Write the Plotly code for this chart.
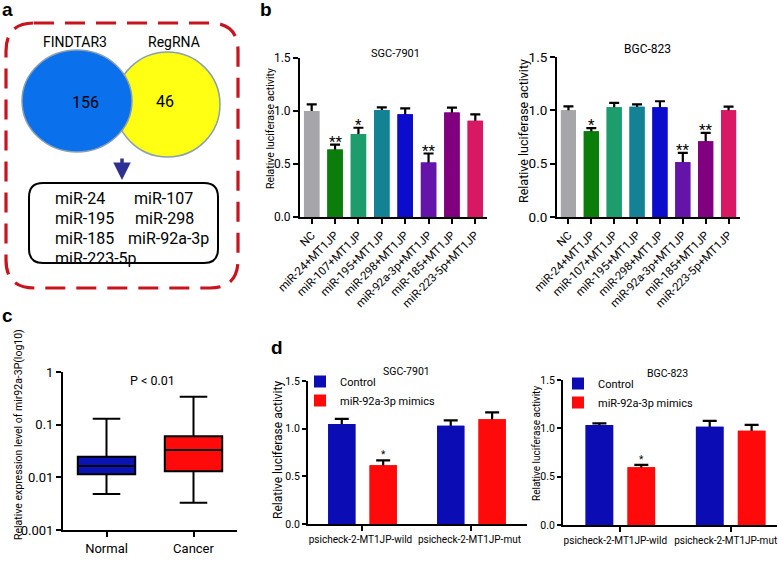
import plotly.graph_objects as go

W, H = 779, 561
def X(px): return px / W
def Y(py): return 1 - py / H

FONT = "Roboto"

# ---------------- Panel b data ----------------
mirna_cats = ["NC", "miR-24+MT1JP", "miR-107+MT1JP", "miR-195+MT1JP", "miR-298+MT1JP",
              "miR-92a-3p+MT1JP", "miR-185+MT1JP", "miR-223-5p+MT1JP"]
sgc_vals = [1.00, 0.637, 0.782, 1.01, 0.97, 0.514, 0.987, 0.908]
sgc_err = [0.063, 0.045, 0.06, 0.025, 0.055, 0.085, 0.045, 0.06]
sgc_sig = ["", "**", "*", "", "", "**", "", ""]
bgc_vals = [1.00, 0.804, 1.03, 1.034, 1.03, 0.514, 0.71, 1.00]
bgc_err = [0.037, 0.03, 0.04, 0.022, 0.055, 0.087, 0.078, 0.035]
bgc_sig = ["", "*", "", "", "", "**", "**", ""]
bar_colors = ["#a6a6aa", "#0a7d0a", "#1d9c6e", "#138294", "#0c0ccd",
              "#6414a8", "#800080", "#d81863"]

# ---------------- Panel c data ----------------
box_groups = ["Normal", "Cancer"]
box_min = [0.0048, 0.0033]
box_q1 = [0.0115, 0.013]
box_med = [0.0165, 0.033]
box_q3 = [0.0245, 0.060]
box_max = [0.13, 0.34]
box_colors = ["#0a14b4", "#ff0a0a"]
log_ticks = [0.001, 0.01, 0.1, 1]
log_ticktext = ["0.001", "0.01", "0.1", "1"]

# ---------------- Panel d data ----------------
constructs = ["psicheck-2-MT1JP-wild", "psicheck-2-MT1JP-mut"]
d_sgc_ctrl = [1.048, 1.031]
d_sgc_ctrl_err = [0.055, 0.055]
d_sgc_mim = [0.617, 1.10]
d_sgc_mim_err = [0.05, 0.07]
d_bgc_ctrl = [1.034, 1.017]
d_bgc_ctrl_err = [0.017, 0.06]
d_bgc_mim = [0.597, 0.976]
d_bgc_mim_err = [0.025, 0.06]
d_sig = ["*", ""]
ctrl_color = "#0c0cb4"
mim_color = "#ff0a0a"

fig = go.Figure()

# ---- panel b bars (error bars drawn behind an identical overlay bar) ----
def add_b(vals, errs, xa, ya):
    fig.add_trace(go.Bar(x=mirna_cats, y=vals, marker=dict(color=bar_colors, line=dict(width=0)),
                         width=0.66,
                         error_y=dict(type="data", array=errs, symmetric=True, color="black",
                                      thickness=2.2, width=5),
                         xaxis=xa, yaxis=ya, showlegend=False, hoverinfo="skip"))
    fig.add_trace(go.Bar(x=mirna_cats, y=vals, marker=dict(color=bar_colors, line=dict(width=0)),
                         width=0.66, xaxis=xa, yaxis=ya, showlegend=False))

add_b(sgc_vals, sgc_err, "x", "y")
add_b(bgc_vals, bgc_err, "x2", "y2")

# ---- panel c boxes ----
for i, g in enumerate(box_groups):
    fig.add_trace(go.Box(x=[g], q1=[box_q1[i]], median=[box_med[i]], q3=[box_q3[i]],
                         lowerfence=[box_min[i]], upperfence=[box_max[i]],
                         fillcolor=box_colors[i], line=dict(color="black", width=2),
                         width=0.66, whiskerwidth=0.48, boxpoints=False,
                         xaxis="x3", yaxis="y3", showlegend=False))

# ---- panel d grouped bars ----
def add_d(ctrl, ctrl_err, mim, mim_err, xa, ya, leg):
    for vals, errs, col, name, off in [(ctrl, ctrl_err, ctrl_color, "Control", -0.315),
                                       (mim, mim_err, mim_color, "miR-92a-3p mimics", 0.065)]:
        fig.add_trace(go.Bar(x=constructs, y=vals, width=0.25, offset=off,
                             marker=dict(color=col, line=dict(width=0)),
                             error_y=dict(type="data", array=errs, symmetric=True, color="black",
                                          thickness=2.2, width=7),
                             xaxis=xa, yaxis=ya, showlegend=False, hoverinfo="skip"))
        fig.add_trace(go.Bar(x=constructs, y=vals, width=0.25, offset=off, name=name,
                             marker=dict(color=col, line=dict(width=0)),
                             xaxis=xa, yaxis=ya, showlegend=True, legend=leg))

add_d(d_sgc_ctrl, d_sgc_ctrl_err, d_sgc_mim, d_sgc_mim_err, "x4", "y4", "legend")
add_d(d_bgc_ctrl, d_bgc_ctrl_err, d_bgc_mim, d_bgc_mim_err, "x5", "y5", "legend2")

# ---------------- axes ----------------
def yax(dom_px, rng, tickfont, dtick=0.5, **kw):
    d = dict(domain=[Y(dom_px[1]), Y(dom_px[0])], range=rng, showline=True, linecolor="black",
             linewidth=2, ticks="outside", ticklen=5, tickwidth=2, tickcolor="black",
             showgrid=False, zeroline=False, automargin=False,
             tickfont=dict(size=tickfont, color="black", family=FONT))
    if dtick is not None:
        d.update(dtick=dtick, tickformat=".1f")
    d.update(kw)
    return d

def xax(dom_px, anchor, tickfont, rng=None, **kw):
    d = dict(domain=[X(dom_px[0]), X(dom_px[1])], anchor=anchor, showline=True, linecolor="black",
             linewidth=2, ticks="outside", ticklen=5, tickwidth=2, tickcolor="black",
             showgrid=False, zeroline=False, automargin=False,
             tickfont=dict(size=tickfont, color="black", family=FONT))
    if rng is not None:
        d["range"] = rng
    d.update(kw)
    return d

layout = dict(
    width=W, height=H, margin=dict(l=0, r=0, t=0, b=0, pad=0, autoexpand=False),
    paper_bgcolor="white", plot_bgcolor="white", barmode="overlay",
    font=dict(family=FONT, color="black"),
    xaxis=xax((300, 487), "y", 11.5, rng=[-0.5, 7.5], tickangle=-45),
    yaxis=yax((58, 217), [0, 1.5], 12, anchor="x"),
    xaxis2=xax((557, 740), "y2", 11.5, rng=[-0.5, 7.5], tickangle=-45),
    yaxis2=yax((57, 217), [0, 1.5], 13.5, anchor="x2"),
    xaxis3=xax((63, 237), "y3", 13, rng=[-0.5, 1.5], tickangle=0),
    yaxis3=yax((372, 530), [-3, 0], 13, dtick=None, anchor="x3", type="log",
               tickvals=log_ticks, ticktext=log_ticktext),
    xaxis4=xax((308, 527), "y4", 10, rng=[-0.5, 1.51], tickangle=0, ticklabelshift=-2),
    yaxis4=yax((381, 524), [0, 1.5], 10.5, anchor="x4", ticklen=4),
    xaxis5=xax((563, 777), "y5", 10, rng=[-0.52, 1.42], tickangle=0, ticklabelshift=-5),
    yaxis5=yax((380, 525), [0, 1.5], 10.5, anchor="x5", ticklen=4),
    legend=dict(x=X(300), y=Y(367), xanchor="left", yanchor="top", bgcolor="rgba(0,0,0,0)",
                font=dict(size=11, family=FONT), tracegroupgap=0, itemwidth=30),
    legend2=dict(x=X(558), y=Y(369), xanchor="left", yanchor="top", bgcolor="rgba(0,0,0,0)",
                 font=dict(size=11, family=FONT), tracegroupgap=0, itemwidth=30),
)
fig.update_layout(**layout)

ann = []
shapes = []

def txt(x, y, s, size, **kw):
    d = dict(x=x, y=y, xref="paper", yref="paper", text=s, showarrow=False,
             xanchor="center", yanchor="middle",
             font=dict(size=size, family=kw.pop("family", FONT), color=kw.pop("color", "black")))
    d.update(kw)
    ann.append(d)

# panel letters
for lab, px, py in [("a", 8, 10), ("b", 266, 10), ("c", 7, 315), ("d", 277, 347)]:
    txt(X(px), Y(py), "<b>%s</b>" % lab, 19, family="Liberation Sans")

# ---------------- panel a (Venn + list) ----------------
def rrect(x0, y0, x1, y1, r):
    p = [f"M{X(x0+r)},{Y(y0)}", f"L{X(x1-r)},{Y(y0)}", f"Q{X(x1)},{Y(y0)} {X(x1)},{Y(y0+r)}",
         f"L{X(x1)},{Y(y1-r)}", f"Q{X(x1)},{Y(y1)} {X(x1-r)},{Y(y1)}",
         f"L{X(x0+r)},{Y(y1)}", f"Q{X(x0)},{Y(y1)} {X(x0)},{Y(y1-r)}",
         f"L{X(x0)},{Y(y0+r)}", f"Q{X(x0)},{Y(y0)} {X(x0+r)},{Y(y0)}", "Z"]
    return " ".join(p)

shapes.append(dict(type="path", xref="paper", yref="paper", path=rrect(6, 23, 238, 288, 28),
                   line=dict(color="#c8141e", width=3.2, dash="20px,11px")))
shapes.append(dict(type="circle", xref="paper", yref="paper", x0=X(115), x1=X(220), y0=Y(157), y1=Y(52),
                   fillcolor="#ffff14", line=dict(color="#8aa0b0", width=1.5), layer="above"))
shapes.append(dict(type="circle", xref="paper", yref="paper", x0=X(22), x1=X(132), y0=Y(152), y1=Y(50),
                   fillcolor="#0a70ec", line=dict(color="#8aa0b0", width=1.5), layer="above"))
shapes.append(dict(type="path", xref="paper", yref="paper", path=rrect(29, 183, 218, 263, 14),
                   line=dict(color="black", width=2)))

txt(X(75), Y(42), "FINDTAR3", 14)
txt(X(174), Y(42), "RegRNA", 14)
txt(X(85), Y(102), "156", 16)
txt(X(165), Y(101), "46", 16)
ann.append(dict(x=X(122), y=Y(180), xref="paper", yref="paper", ax=0, ay=-23, showarrow=True,
                arrowhead=2, arrowsize=1, arrowwidth=3.5, arrowcolor="#2e3192", text=""))

mir_list = [("miR-24", 53, 198), ("miR-107", 132, 198), ("miR-195", 53, 218), ("miR-298", 133, 218),
            ("miR-185", 53, 238), ("miR-92a-3p", 126, 238), ("miR-223-5p", 53, 258)]
for s, px, py in mir_list:
    txt(X(px), Y(py), s, 16, xanchor="left")

# ---------------- panel b annotations ----------------
txt(X(395), Y(53), "SGC-7901", 11)
txt(X(647), Y(49), "BGC-823", 12)
txt(X(270), Y(129), "Relative luciferase activity", 10.5, textangle=-90)
txt(X(523), Y(131), "Relative luciferase activity", 12.5, textangle=-90)
for xa, ya, vals, errs, sig in [("x", "y", sgc_vals, sgc_err, sgc_sig), ("x2", "y2", bgc_vals, bgc_err, bgc_sig)]:
    for i, s in enumerate(sig):
        if s:
            ann.append(dict(x=mirna_cats[i], y=vals[i] + errs[i], xref=xa, yref=ya, text=s, showarrow=False,
                            xanchor="center", yanchor="bottom", yshift=-8,
                            font=dict(size=15, family=FONT, color="black")))

# ---------------- panel c annotations ----------------
txt(X(18), Y(435), "Relative expression level of mir92a-3P(log10)", 10.5, textangle=-90)
shapes.append(dict(type="line", xref="x3", yref="y3", x0=0.04, x1=0.99, y0=-0.33, y1=-0.33,
                   line=dict(color="black", width=1.8)))
txt(X(152), Y(380), "P < 0.01", 12.5)

# ---------------- panel d annotations ----------------
txt(X(407), Y(371), "SGC-7901", 10.5)
txt(X(667), Y(373), "BGC-823", 10.5)
txt(X(278), Y(450), "Relative luciferase activity", 12, textangle=-90)
txt(X(536), Y(444), "Relative luciferase activity", 10, textangle=-90)
for xa, ya, vals, errs in [("x4", "y4", d_sgc_mim, d_sgc_mim_err), ("x5", "y5", d_bgc_mim, d_bgc_mim_err)]:
    for i, s in enumerate(d_sig):
        if s:
            ann.append(dict(x=i + 0.19, y=vals[i] + errs[i], xref=xa, yref=ya, text=s, showarrow=False,
                            xanchor="center", yanchor="bottom", yshift=-2,
                            font=dict(size=10, family=FONT, color="black")))

fig.update_layout(annotations=ann, shapes=shapes)
fig.write_html("out.html", config={"displayModeBar": False},
               post_script="document.body.style.margin='0px';document.body.style.overflow='hidden';")
